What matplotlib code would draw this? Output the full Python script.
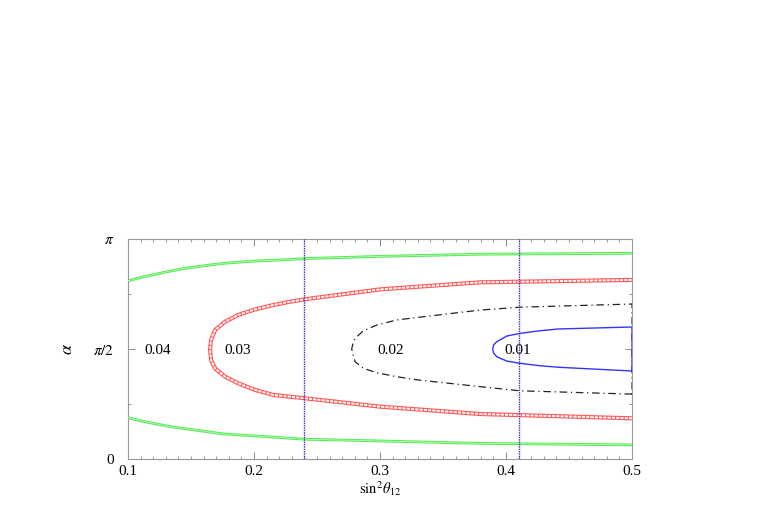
import numpy as np
import matplotlib
matplotlib.use("Agg")
import matplotlib.pyplot as plt

plt.rcParams['font.family'] = ['Liberation Serif', 'DejaVu Serif']
plt.rcParams['mathtext.fontset'] = 'stix'

# contour curves, alpha in units of pi
green_x = [0.1, 0.1095, 0.1228, 0.136, 0.149, 0.1756, 0.202, 0.229, 0.24, 0.30, 0.38, 0.5]
green_up = [0.81, 0.824, 0.841, 0.857, 0.870, 0.8895, 0.900, 0.907, 0.911, 0.921, 0.931, 0.935]
green_lo = [0.188, 0.174, 0.159, 0.145, 0.135, 0.114, 0.1045, 0.094, 0.090, 0.082, 0.071, 0.064]

red_x = [0.1651, 0.1659, 0.169, 0.177, 0.1875, 0.2008, 0.2153, 0.2286, 0.2405, 0.30, 0.3794, 0.5]
red_up = [0.50, 0.541, 0.586, 0.624, 0.655, 0.680, 0.700, 0.715, 0.726, 0.771, 0.803, 0.814]
red_lo = [0.50, 0.45, 0.412, 0.374, 0.344, 0.314, 0.291, 0.283, 0.276, 0.238, 0.2045, 0.185]

black_x = [0.2775, 0.2785, 0.2802, 0.2868, 0.2974, 0.3133, 0.3304, 0.3794, 0.411, 0.5]
black_up = [0.50, 0.525, 0.549, 0.583, 0.609, 0.632, 0.644, 0.677, 0.690, 0.7045]
black_lo = [0.50, 0.475, 0.442, 0.412, 0.392, 0.374, 0.359, 0.329, 0.310, 0.295]

blue_x = [0.3894, 0.3901, 0.3926, 0.4006, 0.4111, 0.427, 0.4415, 0.5]
blue_up = [0.50, 0.518, 0.533, 0.559, 0.571, 0.583, 0.591, 0.600]
blue_lo = [0.50, 0.482, 0.465, 0.445, 0.435, 0.424, 0.417, 0.400]

vlines_x = [0.24, 0.41]

labels = ['0.04', '0.03', '0.02', '0.01']
label_x = [0.1234, 0.1869, 0.3088, 0.4095]


def closed(xs, up, lo):
    # go along the lower branch backwards, then the upper branch
    x = list(xs[::-1]) + list(xs[1:])
    y = list(lo[::-1]) + list(up[1:])
    return np.array(x), np.array(y) * np.pi


fig = plt.figure(figsize=(7.63, 5.18), dpi=100)
ax = fig.add_axes([0.1678, 0.1139, 0.6606, 0.4247])

# green: two open branches drawn as a hollow chain
for ys in (green_up, green_lo):
    yy = np.array(ys) * np.pi
    ax.plot(green_x, yy, color='#55ea55', lw=2.0, zorder=2, solid_joinstyle='round')
    ax.plot(green_x, yy, color='white', lw=0.6, dashes=(1.2, 0.8), zorder=3)

# red: chain of little squares
rx, ry = closed(red_x, red_up, red_lo)
ax.plot(rx, ry, color='#ff5a5a', lw=3.0, zorder=2, solid_joinstyle='round')
ax.plot(rx, ry, color='white', lw=1.4, dashes=(1.6, 0.6), zorder=3)

# black dash-dot, closed by the line at x = 0.5
bx, by = closed(black_x, black_up, black_lo)
bx = np.append(bx, bx[0])
by = np.append(by, by[0])
ax.plot(bx, by, color='#222222', lw=0.9, dashes=(6, 3, 1, 3), zorder=4)

# blue solid, closed by the line at x = 0.5
ux, uy = closed(blue_x, blue_up, blue_lo)
ux = np.append(ux, ux[0])
uy = np.append(uy, uy[0])
ax.plot(ux, uy, color='#3333ff', lw=1.0, zorder=4, solid_joinstyle='round')

for xv in vlines_x:
    ax.axvline(xv, color='#5522cc', lw=1.0, dashes=(1, 0.7), zorder=5)

for lab, lx in zip(labels, label_x):
    ax.text(lx, 0.495 * np.pi, lab, ha='center', va='center', fontsize=11, zorder=6)

ax.set_xlim(0.1, 0.5)
ax.set_ylim(0, np.pi)
ax.set_xticks([0.1, 0.2, 0.3, 0.4, 0.5])
ax.set_xticklabels(['0.1', '0.2', '0.3', '0.4', '0.5'])
ax.set_xticks(np.arange(0.1, 0.5, 0.01), minor=True)
ax.set_yticks([0, np.pi / 2, np.pi])
ax.set_yticklabels(['0', r'$\pi/2$', r'$\pi$'])
ax.set_yticks([np.pi / 4, 3 * np.pi / 4], minor=True)

ax.tick_params(which='both', direction='in', top=True, right=True,
               color='#888888', labelsize=11)
ax.tick_params(which='major', length=5, width=0.7, pad=4)
ax.tick_params(which='minor', length=2.5, width=0.6)
ax.tick_params(axis='y', pad=10)
for sp in ax.spines.values():
    sp.set_color('#999999')
    sp.set_linewidth(0.8)

ax.set_xlabel(r'$\mathrm{sin}^2\theta_{12}$', fontsize=10.5, labelpad=1)
ax.set_ylabel(r'$\alpha$', fontsize=13, labelpad=12)

fig.savefig('out.png', dpi=100)
